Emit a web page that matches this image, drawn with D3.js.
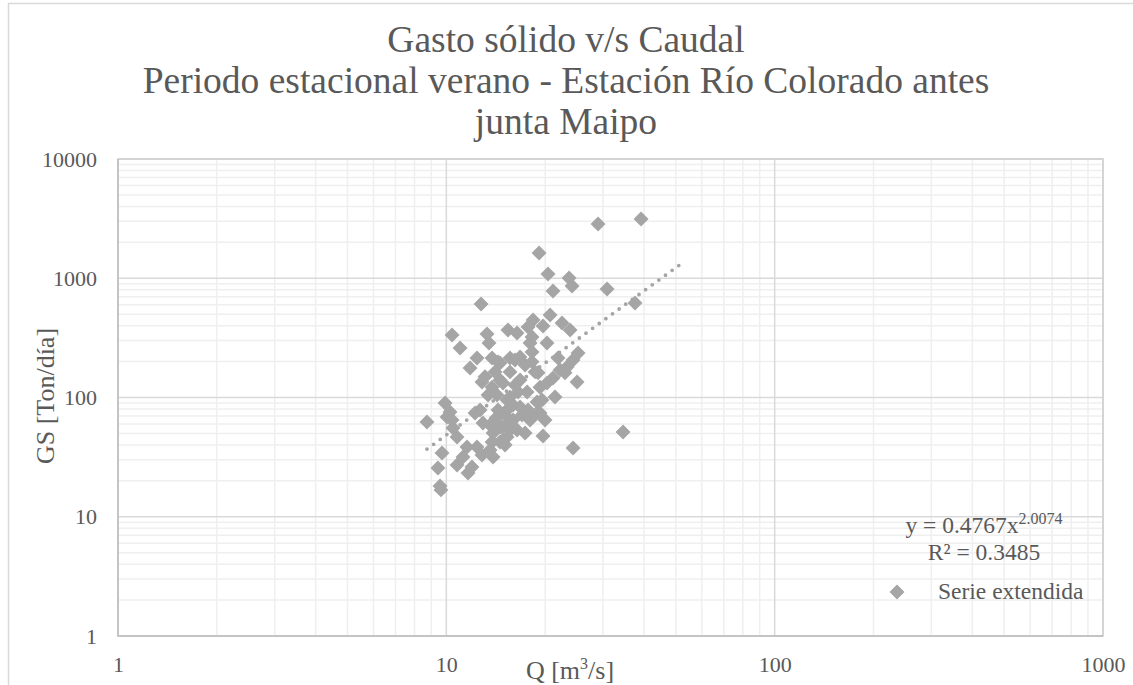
<!DOCTYPE html>
<html>
<head>
<meta charset="utf-8">
<script src="https://cdn.jsdelivr.net/npm/d3@7"></script>
<style>
  body { margin: 0; background: #fff; }
  text { font-family: "Liberation Serif", "Times New Roman", serif; fill: #595959; }
</style>
</head>
<body>
<svg id="chart" width="1133" height="685"></svg>
<script>
'use strict';

// chart texts
var titleLines = [
  'Gasto sólido v/s Caudal',
  'Periodo estacional verano - Estación Río Colorado antes',
  'junta Maipo'
];
var xTicks = [1, 10, 100, 1000];
var yTicks = [1, 10, 100, 1000, 10000];
var legendLabel = 'Serie extendida';

// caudal Q [m3/s]
var qValues = [
  28.98, 39.18, 19.16, 20.40, 23.65, 21.13, 24.15, 12.76, 30.87, 37.56,
  20.70, 22.51, 23.82, 19.70, 18.37, 17.74, 20.26, 17.99, 15.41, 16.42,
  18.24, 25.19, 24.32, 21.89, 23.32, 22.99, 25.01, 21.13, 20.26, 21.43,
  19.56, 19.29, 19.70, 34.53, 24.32, 16.19, 14.57, 17.37, 18.63, 15.63,
  22.20, 16.77, 14.88, 19.29, 17.62, 15.63, 18.89, 16.77, 18.89, 15.31,
  15.63, 15.31, 14.57, 10.41, 11.01, 13.30, 13.49, 12.40, 11.81, 13.78,
  13.12, 14.07, 13.78, 12.84, 9.91, 8.73, 10.26, 10.41, 10.48, 10.78,
  12.23, 12.67, 12.93, 13.59, 13.88, 14.37, 14.78, 9.70, 9.43, 9.57,
  9.63, 11.56, 11.24, 10.78, 12.40, 12.84, 11.97, 11.64, 13.59, 13.78,
  13.88, 13.40, 15.31, 16.54, 14.57, 14.37, 15.63, 16.77, 18.24, 18.24,
  19.02, 15.63, 14.88, 14.57, 10.05, 15.97, 17.01, 16.42, 15.10, 15.10,
  15.97, 17.37, 17.99, 14.17, 17.74, 19.98, 14.27, 16.19
];
// gasto sólido GS [Ton/día]
var gsValues = [
  2851, 3141, 1628, 1085, 1005, 782, 861, 608, 813, 620,
  492, 421, 368, 398, 447, 390, 286, 286, 368, 347,
  322, 236, 206, 214, 180, 161, 135, 146, 132, 101,
  95.3, 74.1, 47.5, 51.4, 37.7, 206, 195, 187, 164, 164,
  170, 140, 132, 122, 111, 101, 91.7, 83.2, 74.1, 78.6,
  61.1, 46.6, 42.4, 334, 260, 341, 286, 214, 177, 214,
  149, 164, 122, 135, 89.9, 62.3, 75.6, 64.8, 55.5, 46.6,
  74.1, 78.6, 61.1, 58.8, 50.4, 78.6, 56.6, 34.2, 25.6, 18.1,
  16.8, 38.5, 31.7, 27.2, 38.5, 33.0, 26.1, 23.3, 36.3, 42.4,
  31.7, 105, 95.3, 111, 140, 199, 214, 219, 241, 199,
  161, 53.4, 44.0, 56.6, 68.6, 64.8, 71.3, 53.4, 40.0, 71.3,
  86.5, 50.4, 64.8, 67.3, 78.6, 64.8, 105, 127
];

// power trendline y = a x^b
var trendCoef = [0.4767, 2.0074];
var trendRange = [8.73, 52.6];
var trendLines = ['y = 0.4767x', '2.0074', 'R² = 0.3485'];

var W = 1133, H = 685;
var plot = { left: 118, right: 1103, top: 159, bottom: 636 };
var markColor = '#a5a5a5';

var svg = d3.select('#chart');

// outer chart border
svg.append('rect')
  .attr('x', 8.5).attr('y', 3.5)
  .attr('width', W + 20).attr('height', H + 20)
  .attr('fill', 'none')
  .attr('stroke', '#d9d9d9')
  .attr('stroke-width', 1.5);

var x = d3.scaleLog().domain([1, 1000]).range([plot.left, plot.right]);
var y = d3.scaleLog().domain([1, 10000]).range([plot.bottom, plot.top]);

// minor values between decades
function minors(ticks) {
  var out = [];
  ticks.slice(0, -1).forEach((d) => {
    for (var k = 2; k <= 9; k++) { out.push(d * k); }
  });
  return out;
}

var grid = svg.append('g').attr('class', 'grid');

grid.selectAll('.xminor').data(minors(xTicks)).enter().append('line')
  .attr('x1', (d) => x(d)).attr('x2', (d) => x(d))
  .attr('y1', plot.top).attr('y2', plot.bottom)
  .attr('stroke', '#efefef').attr('stroke-width', 1.5);

grid.selectAll('.yminor').data(minors(yTicks)).enter().append('line')
  .attr('x1', plot.left).attr('x2', plot.right)
  .attr('y1', (d) => y(d)).attr('y2', (d) => y(d))
  .attr('stroke', '#efefef').attr('stroke-width', 1.5);

grid.selectAll('.xmajor').data(xTicks).enter().append('line')
  .attr('x1', (d) => x(d)).attr('x2', (d) => x(d))
  .attr('y1', plot.top).attr('y2', plot.bottom)
  .attr('stroke', '#d9d9d9').attr('stroke-width', 1.5);

grid.selectAll('.ymajor').data(yTicks).enter().append('line')
  .attr('x1', plot.left).attr('x2', plot.right)
  .attr('y1', (d) => y(d)).attr('y2', (d) => y(d))
  .attr('stroke', '#d9d9d9').attr('stroke-width', 1.5);

// plot frame
svg.append('rect')
  .attr('x', plot.left).attr('y', plot.top)
  .attr('width', plot.right - plot.left).attr('height', plot.bottom - plot.top)
  .attr('fill', 'none').attr('stroke', '#d0d0d0').attr('stroke-width', 1.5);
svg.append('path')
  .attr('d', 'M' + plot.left + ',' + plot.top + 'V' + plot.bottom + 'H' + plot.right)
  .attr('fill', 'none').attr('stroke', '#bfbfbf').attr('stroke-width', 1.5);

// axes (labels only)
var fmt = d3.format('d');
var xAxis = svg.append('g')
  .attr('transform', 'translate(0,' + plot.bottom + ')')
  .call(d3.axisBottom(x).tickValues(xTicks).tickFormat(fmt).tickSize(0).tickPadding(20));
var yAxis = svg.append('g')
  .attr('transform', 'translate(' + plot.left + ',0)')
  .call(d3.axisLeft(y).tickValues(yTicks).tickFormat(fmt).tickSize(0).tickPadding(21));
[xAxis, yAxis].forEach((g) => {
  g.select('.domain').remove();
  g.selectAll('text')
    .style('font-family', '"Liberation Serif", serif')
    .style('font-size', '22px')
    .style('fill', '#595959');
});

// trendline, dotted
var trendFn = (q) => trendCoef[0] * Math.pow(q, trendCoef[1]);
svg.append('path')
  .datum(trendRange)
  .attr('d', d3.line().x((d) => x(d)).y((d) => y(trendFn(d))))
  .attr('fill', 'none')
  .attr('stroke', markColor)
  .attr('stroke-width', 3.8)
  .attr('stroke-linecap', 'round')
  .attr('stroke-dasharray', '0 8.2');

// points
var diamond = d3.symbol().type(d3.symbolSquare).size(112);
svg.append('g').selectAll('path')
  .data(qValues.map((q, i) => [q, gsValues[i]]))
  .enter().append('path')
  .attr('d', diamond)
  .attr('transform', (d) => 'translate(' + x(d[0]) + ',' + y(d[1]) + ') rotate(45)')
  .attr('fill', markColor);

// titles
svg.append('g').selectAll('text')
  .data(titleLines)
  .enter().append('text')
  .attr('x', 566)
  .attr('y', (d, i) => 52 + i * 41)
  .attr('text-anchor', 'middle')
  .style('font-size', '37.5px')
  .text((d) => d);

svg.append('text')
  .attr('text-anchor', 'middle')
  .attr('transform', 'translate(54,396) rotate(-90)')
  .style('font-size', '26px')
  .text('GS [Ton/día]');

var xt = svg.append('text')
  .attr('x', 570).attr('y', 679)
  .attr('text-anchor', 'middle')
  .style('font-size', '26px');
xt.append('tspan').text('Q [m');
xt.append('tspan').attr('dy', -10).style('font-size', '16px').text('3');
xt.append('tspan').attr('dy', 10).text('/s]');

// trendline equation
var eq = svg.append('text')
  .attr('x', 984).attr('y', 533)
  .attr('text-anchor', 'middle')
  .style('font-size', '23.5px');
eq.append('tspan').text(trendLines[0]);
eq.append('tspan').attr('dy', -9).style('font-size', '16px').text(trendLines[1]);

svg.append('text')
  .attr('x', 984).attr('y', 560)
  .attr('text-anchor', 'middle')
  .style('font-size', '23.5px')
  .text(trendLines[2]);

// legend
svg.append('path')
  .attr('d', diamond)
  .attr('transform', 'translate(897,592) rotate(45)')
  .attr('fill', markColor);
svg.append('text')
  .attr('x', 938).attr('y', 599)
  .style('font-size', '23.5px')
  .text(legendLabel);
</script>
</body>
</html>
